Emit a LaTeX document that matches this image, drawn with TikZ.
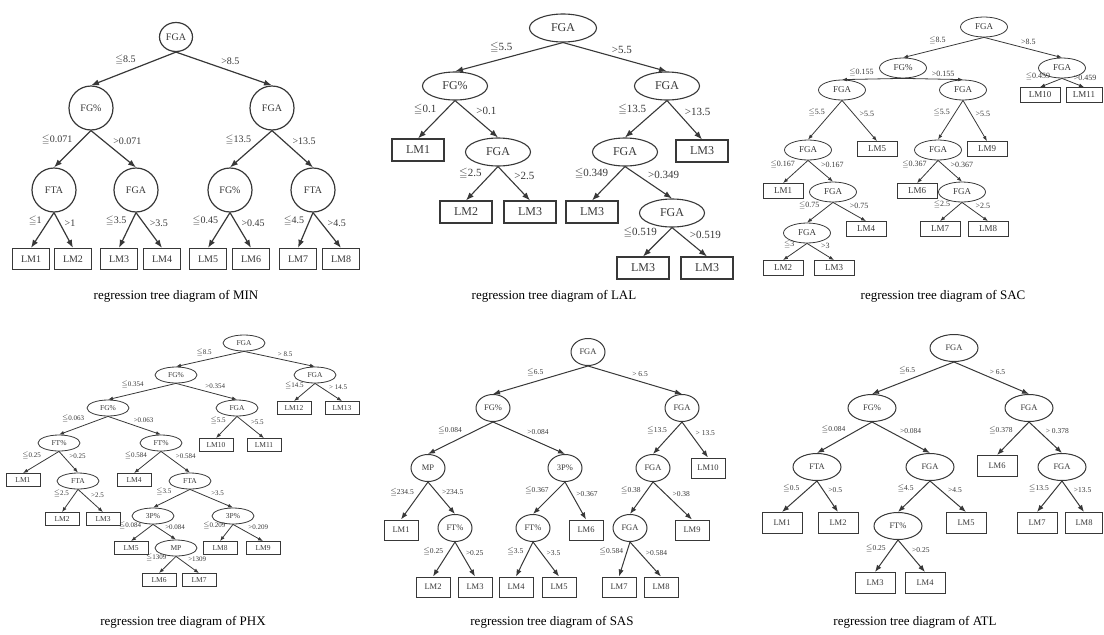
\documentclass[tikz,border=0pt]{standalone}
\usepackage{amssymb}
\usepackage{fontspec}
\setmainfont{Liberation Serif}
\usetikzlibrary{shapes.geometric,arrows.meta}
\definecolor{ink}{HTML}{383838}
\newcommand{\leqsign}{$\leqq$}
\tikzset{
  treesize/.style n args={8}{
    split/.style={ellipse, draw=ink, line width=#7, inner sep=0pt,
      minimum width=#1, minimum height=#2, text=ink, font=\fontsize{#5}{#5}\selectfont},
    leaf/.style={rectangle, draw=ink, line width=#7, inner sep=0pt,
      minimum width=#3, minimum height=#4, text=ink, font=\fontsize{#5}{#5}\selectfont},
    lab/.style={text=ink, inner sep=1.5pt, font=\fontsize{#6}{#6}\selectfont},
    br/.style={draw=ink, line width=#7, -{Latex[length=#8, width=0.75*#8]}}
  },
  lo/.style={pos=.45, anchor=south east},
  hi/.style={pos=.45, anchor=south west},
  ttl/.style={text=black, font=\fontsize{13}{15}\selectfont}
}
\begin{document}
\begin{tikzpicture}[x=1pt, y=-1pt]
\useasboundingbox (0,0) rectangle (1104,635);

% regression tree of MIN
\begin{scope}[treesize={44pt}{44pt}{37pt}{21pt}{10}{10}{1.2pt}{8pt}]
\node[split, minimum width=33pt, minimum height=29pt] (mr) at (176,37) {FGA};
\node[split] (ma) at (91,108) {FG\%};
\node[split] (mb) at (272,108) {FGA};
\node[split] (mc) at (54,190) {FTA};
\node[split] (md) at (136,190) {FGA};
\node[split] (me) at (230,190) {FG\%};
\node[split] (mf) at (313,190) {FTA};
\foreach \x [count=\i] in {31,73,119,162,208,251,298,341}
  \node[leaf] (m\i) at (\x,259) {LM\i};
\foreach \u/\v/\t/\s in {mr/ma/{\leqsign8.5}/lo, mr/mb/{>8.5}/hi,
    ma/mc/{\leqsign0.071}/lo, ma/md/{>0.071}/hi, mb/me/{\leqsign13.5}/lo, mb/mf/{>13.5}/hi,
    mc/m1/{\leqsign1}/lo, mc/m2/{>1}/hi, md/m3/{\leqsign3.5}/lo, md/m4/{>3.5}/hi,
    me/m5/{\leqsign0.45}/lo, me/m6/{>0.45}/hi, mf/m7/{\leqsign4.5}/lo, mf/m8/{>4.5}/hi}
  \draw[br] (\u.south) -- node[lab,\s]{\t} (\v.north);
\node[ttl] (mt) at (176,296) {regression tree diagram of MIN};
\end{scope}

% regression tree of LAL
\begin{scope}[treesize={65pt}{28pt}{52pt}{22pt}{12}{11}{1.1pt}{8pt}]
\node[split, minimum width=67pt] (lr) at (563,28) {FGA};
\node[split] (la) at (455,86) {FG\%};
\node[split] (lb) at (667,86) {FGA};
\node[leaf] (l1) at (418,150) {LM1};
\node[split] (lc) at (498,152) {FGA};
\node[split] (ld) at (625,152) {FGA};
\node[leaf] (l2) at (702,151) {LM3};
\node[leaf] (l3) at (466,212) {LM2};
\node[leaf] (l4) at (530,212) {LM3};
\node[leaf] (l5) at (592,212) {LM3};
\node[split] (le) at (672,213) {FGA};
\node[leaf] (l6) at (643,268) {LM3};
\node[leaf] (l7) at (707,268) {LM3};
\foreach \u/\v/\t/\s in {lr/la/{\leqsign5.5}/lo, lr/lb/{>5.5}/hi,
    la/l1/{\leqsign0.1}/lo, la/lc/{>0.1}/hi, lb/ld/{\leqsign13.5}/lo, lb/l2/{>13.5}/hi,
    lc/l3/{\leqsign2.5}/lo, lc/l4/{>2.5}/hi, ld/l5/{\leqsign0.349}/lo, ld/le/{>0.349}/hi,
    le/l6/{\leqsign0.519}/lo, le/l7/{>0.519}/hi}
  \draw[br] (\u.south) -- node[lab,\s]{\t} (\v.north);
\node[ttl] (lt) at (554,296) {regression tree diagram of LAL};
\end{scope}

% regression tree of SAC
\begin{scope}[treesize={47pt}{20pt}{40pt}{15pt}{9}{8}{0.8pt}{5pt}]
\node[split] (sr) at (984,27) {FGA};
\node[split] (sa) at (903,68) {FG\%};
\node[split] (sb) at (1062,68) {FGA};
\node[leaf] (s10) at (1040,95) {LM10};
\node[leaf, minimum width=36pt] (s11) at (1084,95) {LM11};
\node[split] (sc) at (842,90) {FGA};
\node[split] (sd) at (963,90) {FGA};
\node[split] (se) at (808,150) {FGA};
\node[leaf] (s5) at (877,149) {LM5};
\node[split] (sf) at (938,150) {FGA};
\node[leaf] (s9) at (987,149) {LM9};
\node[leaf] (s1) at (783,191) {LM1};
\node[split] (sg) at (833,192) {FGA};
\node[leaf] (s6) at (917,191) {LM6};
\node[split] (sh) at (962,192) {FGA};
\node[split] (si) at (807,233) {FGA};
\node[leaf] (s4) at (866,229) {LM4};
\node[leaf] (s7) at (940,229) {LM7};
\node[leaf] (s8) at (988,229) {LM8};
\node[leaf] (s2) at (783,268) {LM2};
\node[leaf] (s3) at (834,268) {LM3};
\foreach \u/\v/\t/\s in {sr/sa/{\leqsign8.5}/lo, sr/sb/{>8.5}/hi,
    sa/sc/{\leqsign0.155}/lo, sa/sd/{>0.155}/hi, sb/s10/{\leqsign0.459}/lo, sb/s11/{>0.459}/hi,
    sc/se/{\leqsign5.5}/lo, sc/s5/{>5.5}/hi, sd/sf/{\leqsign5.5}/lo, sd/s9/{>5.5}/hi,
    se/s1/{\leqsign0.167}/lo, se/sg/{>0.167}/hi, sf/s6/{\leqsign0.367}/lo, sf/sh/{>0.367}/hi,
    sg/si/{\leqsign0.75}/lo, sg/s4/{>0.75}/hi, sh/s7/{\leqsign2.5}/lo, sh/s8/{>2.5}/hi,
    si/s2/{\leqsign3}/lo, si/s3/{>3}/hi}
  \draw[br] (\u.south) -- node[lab,\s]{\t} (\v.north);
\node[ttl] (st) at (943,296) {regression tree diagram of SAC};
\end{scope}

% regression tree of PHX
\begin{scope}[treesize={42pt}{16pt}{34pt}{13pt}{7.5}{7}{0.8pt}{5pt}]
\node[split] (pr) at (244,343) {FGA};
\node[split] (pa) at (176,375) {FG\%};
\node[split] (pb) at (315,375) {FGA};
\node[leaf] (p12) at (294,408) {LM12};
\node[leaf] (p13) at (342,408) {LM13};
\node[split] (pc) at (108,408) {FG\%};
\node[split] (pd) at (237,408) {FGA};
\node[split] (pe) at (59,443) {FT\%};
\node[split] (pf) at (161,443) {FT\%};
\node[leaf] (p10) at (216,445) {LM10};
\node[leaf] (p11) at (264,445) {LM11};
\node[leaf] (p1) at (23,480) {LM1};
\node[split] (pg) at (78,481) {FTA};
\node[leaf] (p4) at (134,480) {LM4};
\node[split] (ph) at (190,481) {FTA};
\node[leaf] (p2) at (62,519) {LM2};
\node[leaf] (p3) at (103,519) {LM3};
\node[split] (pi) at (153,516) {3P\%};
\node[split] (pj) at (233,516) {3P\%};
\node[leaf] (p5) at (131,548) {LM5};
\node[split] (pk) at (176,548) {MP};
\node[leaf] (p8) at (220,548) {LM8};
\node[leaf] (p9) at (263,548) {LM9};
\node[leaf] (p6) at (159,580) {LM6};
\node[leaf] (p7) at (199,580) {LM7};
\foreach \u/\v/\t/\s in {pr/pa/{\leqsign8.5}/lo, pr/pb/{> 8.5}/hi,
    pb/p12/{\leqsign14.5}/lo, pb/p13/{> 14.5}/hi, pa/pc/{\leqsign0.354}/lo, pa/pd/{>0.354}/hi,
    pc/pe/{\leqsign0.063}/lo, pc/pf/{>0.063}/hi, pd/p10/{\leqsign5.5}/lo, pd/p11/{>5.5}/hi,
    pe/p1/{\leqsign0.25}/lo, pe/pg/{>0.25}/hi, pf/p4/{\leqsign0.584}/lo, pf/ph/{>0.584}/hi,
    pg/p2/{\leqsign2.5}/lo, pg/p3/{>2.5}/hi, ph/pi/{\leqsign3.5}/lo, ph/pj/{>3.5}/hi,
    pi/p5/{\leqsign0.084}/lo, pi/pk/{>0.084}/hi, pj/p8/{\leqsign0.209}/lo, pj/p9/{>0.209}/hi,
    pk/p6/{\leqsign1309}/lo, pk/p7/{>1309}/hi}
  \draw[br] (\u.south) -- node[lab,\s]{\t} (\v.north);
\node[ttl] (pt) at (183,622) {regression tree diagram of PHX};
\end{scope}

% regression tree of SAS
\begin{scope}[treesize={34pt}{27pt}{34pt}{20pt}{8.5}{7.5}{1pt}{7pt}]
\node[split] (qr) at (588,352) {FGA};
\node[split] (qa) at (493,408) {FG\%};
\node[split] (qb) at (682,408) {FGA};
\node[split] (qc) at (428,468) {MP};
\node[split] (qd) at (565,468) {3P\%};
\node[split] (qe) at (653,468) {FGA};
\node[leaf] (q10) at (708,468) {LM10};
\node[leaf] (q1) at (401,530) {LM1};
\node[split] (qf) at (455,528) {FT\%};
\node[split] (qg) at (533,528) {FT\%};
\node[leaf] (q6) at (586,530) {LM6};
\node[split] (qh) at (630,528) {FGA};
\node[leaf] (q9) at (692,530) {LM9};
\node[leaf] (q2) at (433,587) {LM2};
\node[leaf] (q3) at (475,587) {LM3};
\node[leaf] (q4) at (516,587) {LM4};
\node[leaf] (q5) at (559,587) {LM5};
\node[leaf] (q7) at (619,587) {LM7};
\node[leaf] (q8) at (661,587) {LM8};
\foreach \u/\v/\t/\s in {qr/qa/{\leqsign6.5}/lo, qr/qb/{> 6.5}/hi,
    qa/qc/{\leqsign0.084}/lo, qa/qd/{>0.084}/hi, qb/qe/{\leqsign13.5}/lo, qb/q10/{> 13.5}/hi,
    qc/q1/{\leqsign234.5}/lo, qc/qf/{>234.5}/hi, qd/qg/{\leqsign0.367}/lo, qd/q6/{>0.367}/hi,
    qe/qh/{\leqsign0.38}/lo, qe/q9/{>0.38}/hi, qf/q2/{\leqsign0.25}/lo, qf/q3/{>0.25}/hi,
    qg/q4/{\leqsign3.5}/lo, qg/q5/{>3.5}/hi, qh/q7/{\leqsign0.584}/lo, qh/q8/{>0.584}/hi}
  \draw[br] (\u.south) -- node[lab,\s]{\t} (\v.north);
\node[ttl] (qt) at (552,622) {regression tree diagram of SAS};
\end{scope}

% regression tree of ATL
\begin{scope}[treesize={48pt}{27pt}{40pt}{21pt}{8.5}{7.5}{1pt}{7pt}]
\node[split] (tr) at (954,348) {FGA};
\node[split] (ta) at (872,408) {FG\%};
\node[split] (tb) at (1029,408) {FGA};
\node[split] (tc) at (817,467) {FTA};
\node[split] (td) at (930,467) {FGA};
\node[leaf] (t6) at (997,466) {LM6};
\node[split] (te) at (1062,467) {FGA};
\node[leaf] (t1) at (782,523) {LM1};
\node[leaf] (t2) at (838,523) {LM2};
\node[split] (tf) at (898,526) {FT\%};
\node[leaf] (t5) at (966,523) {LM5};
\node[leaf] (t7) at (1037,523) {LM7};
\node[leaf, minimum width=37pt] (t8) at (1084,523) {LM8};
\node[leaf] (t3) at (875,583) {LM3};
\node[leaf] (t4) at (925,583) {LM4};
\foreach \u/\v/\t/\s in {tr/ta/{\leqsign6.5}/lo, tr/tb/{> 6.5}/hi,
    ta/tc/{\leqsign0.084}/lo, ta/td/{>0.084}/hi, tb/t6/{\leqsign0.378}/lo, tb/te/{> 0.378}/hi,
    tc/t1/{\leqsign0.5}/lo, tc/t2/{>0.5}/hi, td/tf/{\leqsign4.5}/lo, td/t5/{>4.5}/hi,
    te/t7/{\leqsign13.5}/lo, te/t8/{>13.5}/hi, tf/t3/{\leqsign0.25}/lo, tf/t4/{>0.25}/hi}
  \draw[br] (\u.south) -- node[lab,\s]{\t} (\v.north);
\node[ttl] (tt) at (915,622) {regression tree diagram of ATL};
\end{scope}
\end{tikzpicture}
\end{document}
